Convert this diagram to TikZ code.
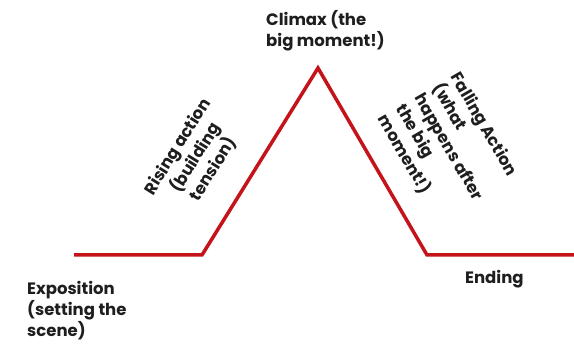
\documentclass[tikz,border=0pt]{standalone}
\usepackage{fontspec}
\setmainfont{Poppins}
\definecolor{plotred}{RGB}{196,20,26}
\definecolor{txt}{RGB}{30,30,30}
\begin{document}
\begin{tikzpicture}[x=1pt,y=-1pt,
  lbl/.style={inner sep=0pt,text=txt,font=\bfseries\fontsize{16.5}{21}\selectfont},
  plot/.style={draw=plotred,line width=3.5pt,line join=miter}]
\useasboundingbox[fill=white] (0,0) rectangle (574,344);
\coordinate (start) at (74,255);
\coordinate (riseA) at (202,255);
\coordinate (peak) at (318,68);
\coordinate (fallB) at (427,255);
\coordinate (finish) at (574,255);
\draw[plot] (start) -- (riseA) -- (peak) -- (fallB) -- (finish);
\node[lbl,anchor=north west,align=left] (expo) at (27,281) {Exposition\\(setting the\\scene)};
\node[lbl,anchor=north west,align=left] (climax) at (266,10) {Climax (the\\big moment!)};
\node[lbl,anchor=north west] (ending) at (465,270) {Ending};
\node[lbl,align=center,rotate=58] (rising) at (196,158) {Rising action\\(building\\tension)};
\node[lbl,anchor=north west,align=left,rotate=-60] (falling) at (462,70) {Falling Action\\(what\\happens after\\the big\\moment!)};
\end{tikzpicture}
\end{document}
